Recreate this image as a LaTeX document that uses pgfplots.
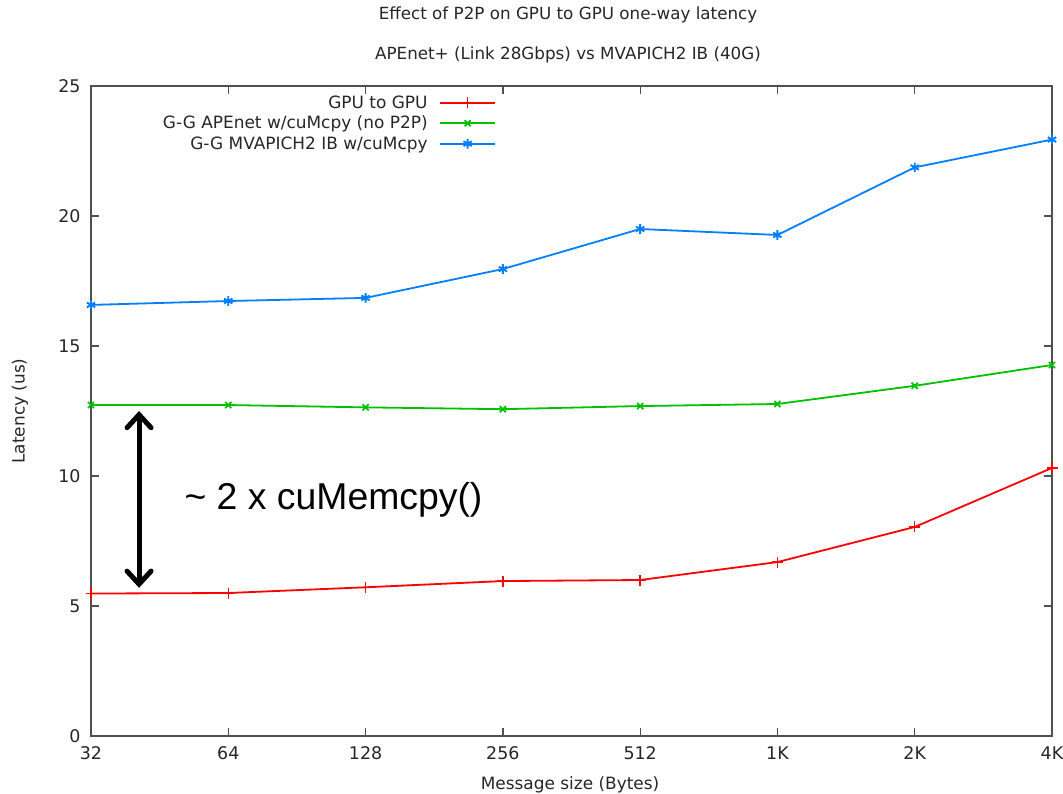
\documentclass[border=0pt]{standalone}
\usepackage{pgfplots}
\pgfplotsset{compat=1.18}
\usepackage{fontspec}
\setmainfont{DejaVu Sans}
\newfontfamily\arialfont{Liberation Sans}
\usetikzlibrary{arrows.meta}
\definecolor{gpred}{HTML}{FF0000}
\definecolor{gpgreen}{HTML}{00C000}
\definecolor{gpblue}{HTML}{0080FF}
\definecolor{axgray}{HTML}{505050}
\begin{document}
\begin{tikzpicture}[x=1bp,y=1bp]
\useasboundingbox (0,0) rectangle (1063,-794);
\node[font=\fontsize{16.8}{19}\selectfont,text=black!85] at (568,-15) {Effect of P2P on GPU to GPU one-way latency};
\node[font=\fontsize{16.8}{19}\selectfont,text=black!85] at (568,-55) {APEnet+ (Link 28Gbps) vs MVAPICH2 IB (40G)};
\begin{axis}[
  anchor=south west, at={(91bp,-736bp)},
  scale only axis, width=961bp, height=650bp,
  xmin=0, xmax=7, ymin=0, ymax=25,
  xtick={0,...,7},
  xticklabels={32,64,128,256,512,1K,2K,4K},
  ytick={0,5,10,15,20,25},
  tick align=inside,
  major tick length=8bp,
  axis line style={axgray, line width=1.3bp},
  every tick/.style={axgray, line width=1.3bp},
  tick label style={font=\fontsize{17.5}{20}\selectfont, text=black!85},
  /pgf/number format/assume math mode=true,
  xticklabel style={yshift=-7bp},
  yticklabel style={xshift=-7bp},
  xlabel={Message size (Bytes)},
  ylabel={Latency (us)},
  label style={font=\fontsize{17}{20}\selectfont, text=black!85},
  xlabel style={at={(axis description cs:0.4985,-0.0754)}, anchor=center},
  ylabel style={at={(axis description cs:-0.0739,0.5)}, anchor=center},
  legend plot pos=right,
  legend style={draw=none, fill=none, at={(0.423,0.99)}, anchor=north east,
    font=\fontsize{17}{20}\selectfont, text=black!85,
    row sep=2.3bp, inner sep=1bp},
  legend cell align=right,
  legend image code/.code={
    \path (0cm,0cm);
    \draw[#1, line width=1.8bp] (0.33cm,0cm) -- (2.29cm,0cm);
    \draw[#1, only marks] plot coordinates {(1.31cm,0cm)};},
  every axis plot/.append style={line width=1.8bp},
]
\addplot[gpred, mark=+, mark size=5.5bp, mark options={line width=1.5bp}] coordinates {
(0,5.48) (1,5.50) (2,5.72) (3,5.96) (4,6.00) (5,6.69) (6,8.04) (7,10.31)};
\addlegendentry{GPU to GPU}
\addplot[gpgreen, mark=x, mark size=4.3bp, mark options={line width=1.7bp}] coordinates {
(0,12.73) (1,12.73) (2,12.64) (3,12.57) (4,12.69) (5,12.77) (6,13.47) (7,14.27)};
\addlegendentry{G-G APEnet w/cuMcpy (no P2P)}
\addplot[gpblue, mark=asterisk, mark size=4.8bp, mark options={line width=1.9bp}] coordinates {
(0,16.58) (1,16.73) (2,16.85) (3,17.96) (4,19.50) (5,19.27) (6,21.87) (7,22.94)};
\addlegendentry{G-G MVAPICH2 IB w/cuMcpy}
\draw[black, line width=5bp, line cap=round, {Straight Barb[length=13bp,width=24bp,line cap=round]}-{Straight Barb[length=13bp,width=24bp,line cap=round]}]
  (axis cs:0.35,12.5) -- (axis cs:0.35,5.7);
\node[anchor=west, font=\arialfont\fontsize{37.5}{42}\selectfont, inner sep=0] at (axis cs:0.68,9.1) {\char`\~{} 2 x cuMemcpy()};
\end{axis}
\end{tikzpicture}
\end{document}
